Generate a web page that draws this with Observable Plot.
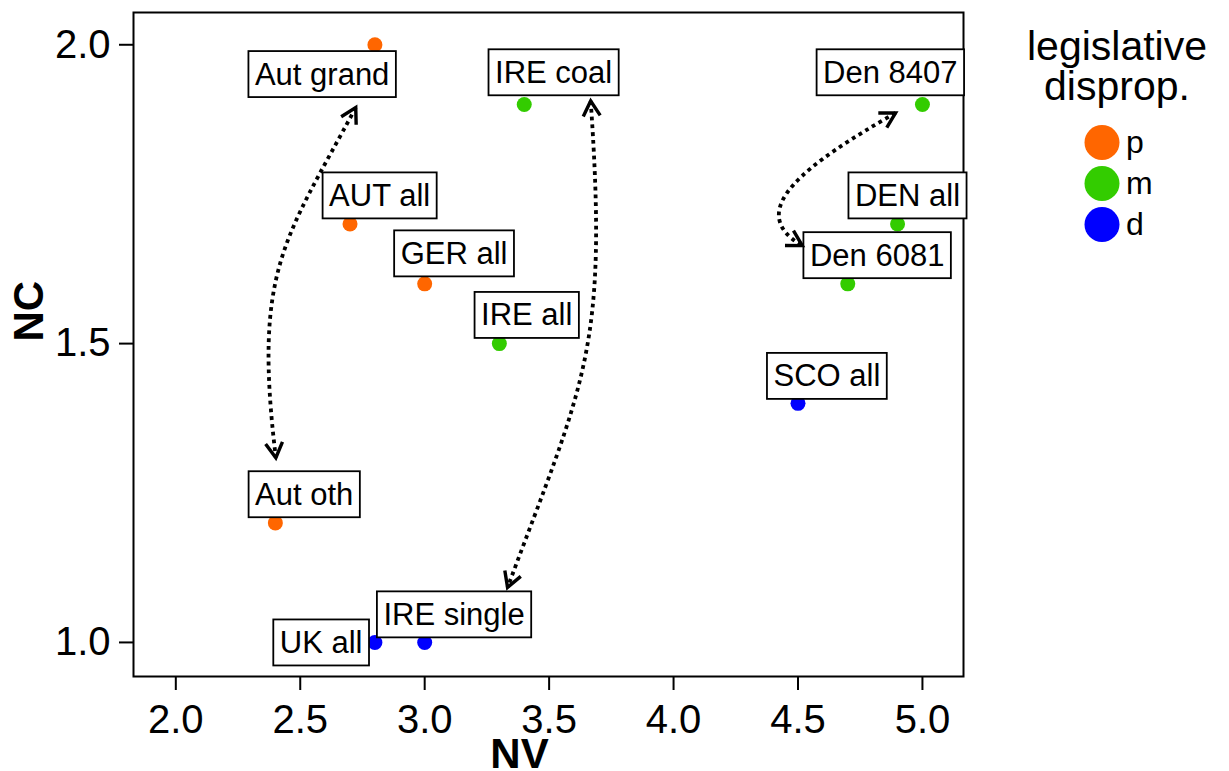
<!DOCTYPE html>
<html>
<head>
<meta charset="utf-8">
<script src="https://cdn.jsdelivr.net/npm/d3@7"></script>
<script src="https://cdn.jsdelivr.net/npm/@observablehq/plot@0.6"></script>
<style>
  html, body { margin: 0; padding: 0; background: white; }
  #wrap { position: relative; width: 1229px; height: 771px; overflow: hidden; font-family: "Liberation Sans", Arial, sans-serif; }
</style>
</head>
<body>
<div id="wrap"></div>
<script>
// ---- data ----
const names   = ["Aut grand", "IRE coal", "Den 8407", "AUT all", "DEN all", "GER all", "Den 6081", "IRE all", "SCO all", "Aut oth", "UK all", "IRE single"];
const nv      = [2.8, 3.4, 5.0, 2.7, 4.9, 3.0, 4.7, 3.3, 4.5, 2.4, 2.8, 3.0];
const nc      = [2.0, 1.9, 1.9, 1.7, 1.7, 1.6, 1.6, 1.5, 1.4, 1.2, 1.0, 1.0];
const disprop = ["p", "m", "m", "p", "m", "p", "m", "m", "d", "p", "d", "d"];
// repelled label anchors (data units)
const labelNV = [2.588, 3.518, 4.871, 2.819, 4.940, 3.118, 4.818, 3.410, 4.616, 2.516, 2.584, 3.118];
const labelNC = [1.950, 1.953, 1.953, 1.747, 1.747, 1.650, 1.647, 1.547, 1.445, 1.247, 0.999, 1.046];
// arrows between paired labels (data units)
const arrowFromNV = [2.723, 3.667, 4.892];
const arrowFromNC = [1.895, 1.906, 1.886];
const arrowToNV   = [2.402, 3.333, 4.517];
const arrowToNC   = [1.309, 1.092, 1.664];
// scales / ticks
const xTicks = [2.0, 2.5, 3.0, 3.5, 4.0, 4.5, 5.0];
const yTicks = [1.0, 1.5, 2.0];
const categories = ["p", "m", "d"];
const catColors  = ["#FF6600", "#33CC00", "#0000FF"];
const legendTitle = ["legislative", "disprop."];

const pts = names.map((n, i) => i);
const FONT = "Liberation Sans, Arial, sans-serif";
const SVGNS = "http://www.w3.org/2000/svg";

// cubic bezier curve shaped relative to the chord
function chordCurve(a1, b1, a2, b2) {
  return (context) => {
    let p = [];
    return {
      areaStart() {}, areaEnd() {},
      lineStart() { p = []; },
      point(x, y) { p.push([+x, +y]); },
      lineEnd() {
        const [[x0, y0], [x3, y3]] = p;
        const dx = x3 - x0, dy = y3 - y0, nx = -dy, ny = dx;
        context.moveTo(x0, y0);
        context.bezierCurveTo(
          x0 + a1 * dx + b1 * nx, y0 + a1 * dy + b1 * ny,
          x0 + a2 * dx + b2 * nx, y0 + a2 * dy + b2 * ny,
          x3, y3);
      }
    };
  };
}
const curveShapes = [
  chordCurve(0.402, 0.110, 0.503, 0.179),
  chordCurve(0.493, -0.120, 0.561, -0.083),
  chordCurve(0.559, 0.262, 1.039, 0.431)
];

const arrowMarks = curveShapes.map((curve, k) =>
  Plot.link([k], {
    x1: i => arrowFromNV[i], y1: i => arrowFromNC[i],
    x2: i => arrowToNV[i],   y2: i => arrowToNC[i],
    curve,
    stroke: "black", strokeWidth: 3.8, strokeDasharray: "3.8,4",
    markerStart: "arrow", markerEnd: "arrow"
  })
);

const plot = Plot.plot({
  width: 1229, height: 771,
  marginLeft: 133, marginRight: 266, marginTop: 12, marginBottom: 95,
  style: { fontFamily: FONT, background: "white", color: "black", overflow: "visible" },
  x: { domain: [1.83, 5.165] },
  y: { domain: [0.943, 2.054] },
  color: { domain: categories, range: catColors },
  marks: [
    Plot.axisX({ ticks: xTicks, tickFormat: d3.format(".1f"), tickSize: 14, tickPadding: 14,
                 fontSize: 40, strokeWidth: 2, label: null }),
    Plot.axisY({ ticks: yTicks, tickFormat: d3.format(".1f"), tickSize: 14, tickPadding: 9,
                 fontSize: 40, strokeWidth: 2, label: null }),
    Plot.frame({ stroke: "black", strokeWidth: 2 }),
    Plot.dot(pts, { x: i => nv[i], y: i => nc[i], fill: i => disprop[i], r: 7.5 }),
    Plot.text(pts, { x: i => labelNV[i], y: i => labelNC[i], text: i => names[i],
                     fontSize: 31, fill: "black", lineAnchor: "middle" }),
    ...arrowMarks,
    Plot.text(["NV"], { frameAnchor: "bottom", dx: -29, dy: 91, lineAnchor: "bottom",
                        fontSize: 42, fontWeight: "bold", fill: "black" }),
    Plot.text(["NC"], { frameAnchor: "left", dx: -91, dy: -3, rotate: -90, lineAnchor: "bottom",
                        fontSize: 42, fontWeight: "bold", fill: "black" })
  ]
});

const wrap = document.getElementById("wrap");
wrap.appendChild(plot);

// label boxes (geom_label style)
const nameSet = new Set(names);
Array.from(plot.querySelectorAll("text"))
  .filter(t => nameSet.has(t.textContent))
  .forEach(t => {
    const b = t.getBBox();
    const r = document.createElementNS(SVGNS, "rect");
    r.setAttribute("x", b.x - 6.5);
    r.setAttribute("y", b.y - 5.5);
    r.setAttribute("width", b.width + 13);
    r.setAttribute("height", b.height + 11);
    r.setAttribute("fill", "white");
    r.setAttribute("stroke", "black");
    r.setAttribute("stroke-width", 1.8);
    if (t.getAttribute("transform")) r.setAttribute("transform", t.getAttribute("transform"));
    t.parentNode.insertBefore(r, t);
  });

// solid open arrowheads pointing outward at both ends
let mk = 0;
function makeMarker(d) {
  const m = document.createElementNS(SVGNS, "marker");
  const id = "ahead-" + (mk++);
  m.setAttribute("id", id);
  m.setAttribute("viewBox", "-20 -20 40 40");
  m.setAttribute("markerWidth", 40);
  m.setAttribute("markerHeight", 40);
  m.setAttribute("markerUnits", "userSpaceOnUse");
  m.setAttribute("orient", "auto");
  m.setAttribute("overflow", "visible");
  const p = document.createElementNS(SVGNS, "path");
  p.setAttribute("d", d);
  p.setAttribute("fill", "none");
  p.setAttribute("stroke", "black");
  p.setAttribute("stroke-width", 3.4);
  p.setAttribute("stroke-dasharray", "none");
  p.setAttribute("stroke-linejoin", "miter");
  p.setAttribute("stroke-linecap", "butt");
  m.appendChild(p);
  return m;
}
let defs = document.createElementNS(SVGNS, "defs");
plot.insertBefore(defs, plot.firstChild);
plot.querySelectorAll("path[marker-start], path[marker-end]").forEach(path => {
  const ms = makeMarker("M15,-8.5L0,0L15,8.5");   // points backward (start)
  const me = makeMarker("M-15,-8.5L0,0L-15,8.5"); // points forward (end)
  defs.appendChild(ms); defs.appendChild(me);
  path.setAttribute("marker-start", `url(#${ms.id})`);
  path.setAttribute("marker-end", `url(#${me.id})`);
});

// legend
const lg = d3.select(wrap).append("svg")
  .attr("width", 266).attr("height", 260)
  .style("position", "absolute").style("left", "963px").style("top", "0px")
  .style("font-family", FONT);
lg.selectAll("text.title").data(legendTitle).join("text")
  .attr("class", "title")
  .attr("x", 154).attr("y", (d, i) => 60 + i * 40)
  .attr("text-anchor", "middle").attr("font-size", 41).attr("fill", "black")
  .text(d => d);
const keys = lg.selectAll("g.key").data(categories).join("g")
  .attr("class", "key")
  .attr("transform", (d, i) => `translate(139,${142.5 + i * 41})`);
keys.append("circle").attr("r", 17.5).attr("fill", (d, i) => catColors[i]);
keys.append("text").attr("x", 24).attr("dy", "0.33em")
  .attr("font-size", 32).attr("fill", "black").text(d => d);
</script>
</body>
</html>
